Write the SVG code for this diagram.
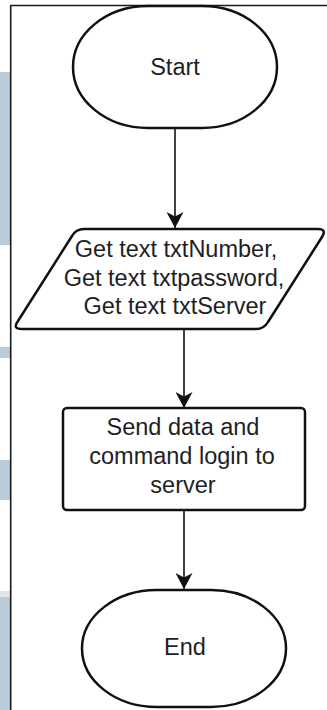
<svg xmlns="http://www.w3.org/2000/svg" width="327" height="710" viewBox="0 0 327 710">
  <style>
    .band { fill: #bacbd9; }
    .shape { fill: #ffffff; stroke: #111111; stroke-width: 2.5; stroke-linejoin: round; }
    .edge { fill: none; stroke: #111111; stroke-width: 1.6; }
    .frame { fill: none; stroke: #1a1a1a; stroke-width: 1.6; }
    .label { font-family: "Liberation Sans", Arial, sans-serif; font-size: 23.5px; fill: #1e1e24; text-anchor: middle; }
  </style>
  <defs>
    <marker id="arrow" markerUnits="userSpaceOnUse" markerWidth="16" markerHeight="17" viewBox="0 0 16 17" refX="16" refY="8.5" orient="auto">
      <path d="M0,0 L16,8.5 L0,17 L4.5,8.5 Z" fill="#111111"/>
    </marker>
  </defs>

  <rect x="0" y="0" width="327" height="710" fill="#ffffff"/>
  <g id="background">
    <rect class="band" x="0" y="72" width="10" height="173"/>
    <rect class="band" x="0" y="347" width="10" height="11"/>
    <rect class="band" x="0" y="460" width="10" height="40"/>
    <rect x="0" y="591" width="10" height="6" fill="#dfe5ea"/>
    <rect class="band" x="0" y="597" width="10" height="113"/>
    <path class="frame" d="M10.7,710 L10.7,5.5 L327,5.5"/>
  </g>

  <g id="connectors">
    <line class="edge" x1="175" y1="128" x2="175" y2="228" marker-end="url(#arrow)"/>
    <line class="edge" x1="184" y1="329" x2="184" y2="408" marker-end="url(#arrow)"/>
    <line class="edge" x1="184" y1="510" x2="184" y2="589" marker-end="url(#arrow)"/>
  </g>

  <g id="start">
    <rect class="shape" x="73" y="6" width="204" height="122" rx="75" ry="61"/>
    <text class="label" x="175" y="75">Start</text>
  </g>

  <g id="input">
    <path class="shape" d="M84,229 L318,229 Q327,229 322,237 L268,322 Q264,329 256,329 L22,329 Q12,329 18,321 L72,236 Q76,229 84,229 Z"/>
    <text class="label" x="176" y="257">Get text txtNumber,</text>
    <text class="label" x="174" y="285.5">Get text txtpassword,</text>
    <text class="label" x="175" y="314">Get text txtServer</text>
  </g>

  <g id="send">
    <rect class="shape" x="63" y="408" width="242" height="102" rx="4" ry="4"/>
    <text class="label" x="183" y="435">Send data and</text>
    <text class="label" x="182" y="464">command login to</text>
    <text class="label" x="183" y="493">server</text>
  </g>

  <g id="end">
    <rect class="shape" x="82" y="590" width="204" height="117" rx="75" ry="58.5"/>
    <text class="label" x="185" y="655">End</text>
  </g>
</svg>
